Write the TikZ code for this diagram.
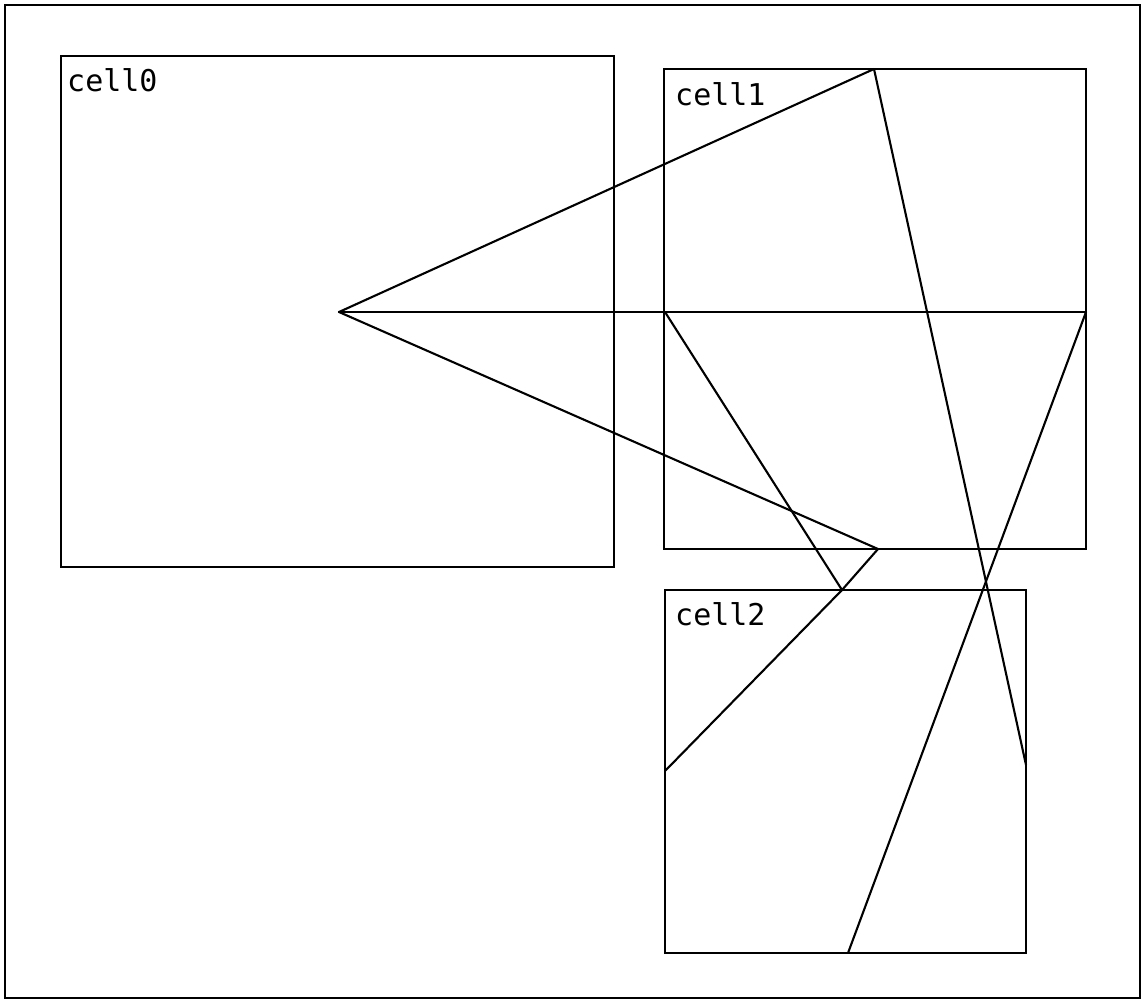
\documentclass[tikz,border=0pt]{standalone}
\usepackage{fontspec}
\newfontfamily\cellfont{DejaVu Sans Mono}
\begin{document}
\begin{tikzpicture}[x=1pt,y=-1pt,
  frame/.style={draw=black,line width=2.2pt},
  cellbox/.style={draw=black,line width=2.2pt,anchor=north west,inner sep=0pt,outer sep=0pt},
  celllabel/.style={anchor=base west,inner sep=0pt,font=\cellfont\fontsize{30}{33}\selectfont},
  ray/.style={draw=black,line width=2.1pt,line cap=round,line join=round}]
\useasboundingbox (0,0) rectangle (1145,1003);
\draw[frame] (5,5) rectangle (1140,998);
\node[cellbox,minimum width=553pt,minimum height=511pt] (cell0) at (61,56) {};
\node[cellbox,minimum width=422pt,minimum height=480pt] (cell1) at (664,69) {};
\node[cellbox,minimum width=361pt,minimum height=363pt] (cell2) at (665,590) {};
\node[celllabel] (lab0) at (67,92) {cell0};
\node[celllabel] (lab1) at (675,106) {cell1};
\node[celllabel] (lab2) at (675,625) {cell2};
\coordinate (A) at (339,312);
\coordinate (T) at (874,69);
\coordinate (R) at (1086,312);
\coordinate (L) at (665,312);
\coordinate (B) at (878,549);
\coordinate (C) at (842,590);
\coordinate (D) at (665,771);
\coordinate (E) at (1026,765);
\coordinate (F) at (848,953);
\draw[ray] (A) -- (T);
\draw[ray] (A) -- (R);
\draw[ray] (A) -- (B) -- (C) -- (D);
\draw[ray] (L) -- (C);
\draw[ray] (T) -- (E);
\draw[ray] (R) -- (F);
\end{tikzpicture}
\end{document}
